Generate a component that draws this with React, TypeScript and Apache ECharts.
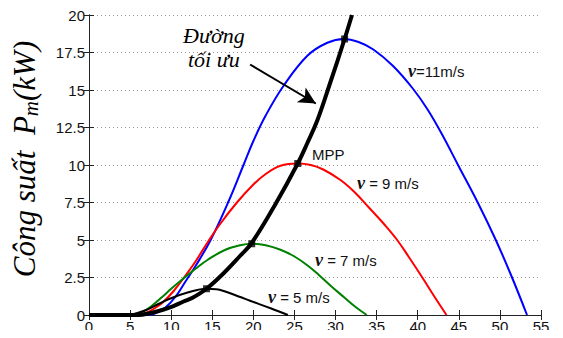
import React, { useEffect, useRef } from "react";
import * as echarts from "echarts";

const xTicks = [0, 5, 10, 15, 20, 25, 30, 35, 40, 45, 50, 55];
const yTicks = [0, 2.5, 5, 7.5, 10, 12.5, 15, 17.5, 20];

const v11: [number, number][] = [
  [6.5, 0], [8, 0.1], [9.3, 0.5], [10.5, 1.2], [11.7, 2.2], [13, 3.3], [14.8, 5.0], [17, 7.6],
  [18.8, 10], [20, 11.6], [21.5, 13.3], [23.7, 15.3], [26.6, 17.3], [29, 18.15], [31, 18.4],
  [32.8, 18.2], [34.6, 17.7], [37, 16.6], [39.4, 15.1], [41.2, 13.7], [43, 12.0], [45, 9.9],
  [47.3, 7.5], [49.5, 5.0], [51.4, 2.6], [53.3, 0],
];
const v9: [number, number][] = [
  [6, 0], [7, 0.15], [8, 0.45], [9, 0.85], [10.3, 1.6], [11.7, 2.6], [13, 3.6], [14.5, 4.9],
  [16, 6.1], [18, 7.5], [20, 8.7], [21.5, 9.4], [23.3, 9.95], [25.4, 10.1], [27, 10.0], [28.5, 9.7],
  [30.6, 9.0], [32.3, 8.2], [34, 7.2], [36, 6.0], [37.5, 5.0], [39, 3.8], [40.5, 2.55], [42, 1.25],
  [43.5, 0],
];
const v7: [number, number][] = [
  [5.5, 0], [6.5, 0.2], [7.5, 0.55], [8.9, 1.2], [10, 1.75], [11.3, 2.35], [13, 3.1], [14.5, 3.7],
  [16.6, 4.35], [18.4, 4.65], [19.8, 4.75], [21.5, 4.65], [23.3, 4.35], [25, 3.9], [26.6, 3.3],
  [28, 2.65], [29.4, 1.95], [31, 1.2], [32.4, 0.55], [33.8, 0],
];
const v5: [number, number][] = [
  [5, 0], [6.8, 0.3], [8.5, 0.75], [9.9, 1.1], [12, 1.5], [14.3, 1.75], [15.5, 1.72], [16.4, 1.6],
  [18.4, 1.2], [19.6, 0.95], [22.1, 0.45], [24.2, 0],
];
const optimal: [number, number][] = [
  [0, 0], [3, 0], [6, 0], [7.4, 0.12], [9, 0.35], [10.2, 0.58], [11.5, 0.9], [12.6, 1.15],
  [14.3, 1.75], [16.5, 2.85], [18.4, 3.95], [19.8, 4.8], [22.7, 7.4], [25.4, 10.1], [26.6, 11.5],
  [27.8, 13], [29.3, 15.4], [31.1, 18.4], [32, 20],
];
const mpp: [number, number][] = [[14.3, 1.75], [19.8, 4.75], [25.4, 10.1], [31.1, 18.4]];
const arrowFrom: [number, number] = [19.6, 16.7];
const arrowTo: [number, number] = [27.6, 14.1];

const yTitleMain = "Công suất  P";
const yTitleSub = "m";
const yTitleUnit = "(kW)";

const SANS = "Liberation Sans";
const SERIF = "Liberation Serif";

function speedLabel(left: number, top: number, txt: string) {
  return {
    type: "text",
    left,
    top,
    style: {
      text: "{v|v}{t|" + txt + "}",
      rich: {
        v: { fontFamily: SERIF, fontStyle: "italic", fontWeight: "bold", fontSize: 18, fill: "#111" },
        t: { fontFamily: SANS, fontSize: 15, fill: "#111" },
      },
    },
  };
}

function measure(text: string, size: number): number {
  const c = document.createElement("canvas").getContext("2d");
  if (!c) return text.length * size * 0.45;
  c.font = `italic ${size}px "${SERIF}"`;
  return c.measureText(text).width;
}

export default function App() {
  const ref = useRef<HTMLDivElement>(null);
  useEffect(() => {
    if (!ref.current) return;
    const chart = echarts.init(ref.current, null, { renderer: "svg" });
    const axisLine = { show: true, lineStyle: { color: "#222", width: 1 } };
    const tick = { show: true, inside: true, length: 5, lineStyle: { color: "#222" } };
    const line = (data: [number, number][], color: string, width: number) => ({
      type: "line",
      data,
      smooth: 0.4,
      showSymbol: false,
      lineStyle: { color, width },
      itemStyle: { color },
      z: 2,
    });
    const big = 31;
    const small = 21;
    const w1 = measure(yTitleMain, big);
    const w2 = measure(yTitleSub, small);
    const w3 = measure(yTitleUnit, big);
    const x0 = -(w1 + w2 + w3) / 2;
    const tStyle = (text: string, size: number) => ({
      text, fontFamily: SERIF, fontStyle: "italic", fontSize: size, fill: "#000",
      align: "left", verticalAlign: "middle",
    });
    chart.setOption({
      animation: false,
      backgroundColor: "#fff",
      grid: { left: 89, right: 22, top: 15, bottom: 23, containLabel: false },
      xAxis: [
        {
          type: "value", min: 0, max: 55, interval: 5, position: "bottom",
          axisLine, axisTick: tick,
          axisLabel: { color: "#111", fontFamily: SANS, fontSize: 15, margin: 4 },
          splitLine: { show: false },
        },
        {
          type: "value", min: 0, max: 55, interval: 5, position: "top",
          axisLine, axisTick: tick, axisLabel: { show: false }, splitLine: { show: false },
        },
      ],
      yAxis: [
        {
          type: "value", min: 0, max: 20, interval: 2.5, position: "left",
          axisLine, axisTick: tick,
          axisLabel: { color: "#111", fontFamily: SANS, fontSize: 15, margin: 4 },
          splitLine: { show: true, lineStyle: { color: "#999", type: [1, 3], width: 1 } },
        },
        {
          type: "value", min: 0, max: 20, interval: 2.5, position: "right",
          axisLine, axisTick: tick, axisLabel: { show: false }, splitLine: { show: false },
        },
      ],
      series: [
        line(v11, "#0000ff", 2),
        line(v9, "#ff0000", 2),
        line(v7, "#008000", 2),
        line(v5, "#000000", 2),
        {
          type: "line",
          data: optimal,
          smooth: 0.4,
          showSymbol: false,
          lineStyle: { color: "#000", width: 4 },
          z: 3,
          markLine: {
            silent: true,
            symbol: ["none", "arrow"],
            symbolSize: [13, 17],
            label: { show: false },
            lineStyle: { color: "#000", width: 2, type: "solid" },
            data: [[{ coord: arrowFrom }, { coord: arrowTo }]],
          },
        },
        {
          type: "scatter",
          data: mpp,
          symbol: "rect",
          symbolSize: 7,
          itemStyle: { color: "#000" },
          z: 4,
        },
      ],
      graphic: [
        {
          type: "group",
          x: 24,
          y: 159,
          rotation: Math.PI / 2,
          children: [
            { type: "text", x: x0, y: 0, style: tStyle(yTitleMain, big) },
            { type: "text", x: x0 + w1, y: 7, style: tStyle(yTitleSub, small) },
            { type: "text", x: x0 + w1 + w2, y: 0, style: tStyle(yTitleUnit, big) },
          ],
        },
        {
          type: "text", left: 183, top: 24,
          style: { text: "Đường", fontFamily: SERIF, fontStyle: "italic", fontSize: 22, fill: "#000" },
        },
        {
          type: "text", left: 188, top: 48,
          style: { text: "tối ưu", fontFamily: SERIF, fontStyle: "italic", fontSize: 22, fill: "#000" },
        },
        {
          type: "text", left: 312, top: 147,
          style: { text: "MPP", fontFamily: SANS, fontSize: 15, fill: "#111" },
        },
        speedLabel(408, 62, "=11m/s"),
        speedLabel(357, 174, " = 9 m/s"),
        speedLabel(315, 251, " = 7 m/s"),
        speedLabel(268, 288, " = 5 m/s"),
      ],
    });
    return () => chart.dispose();
  }, []);
  return <div ref={ref} style={{ width: 563, height: 338, margin: -8 }} />;
}
